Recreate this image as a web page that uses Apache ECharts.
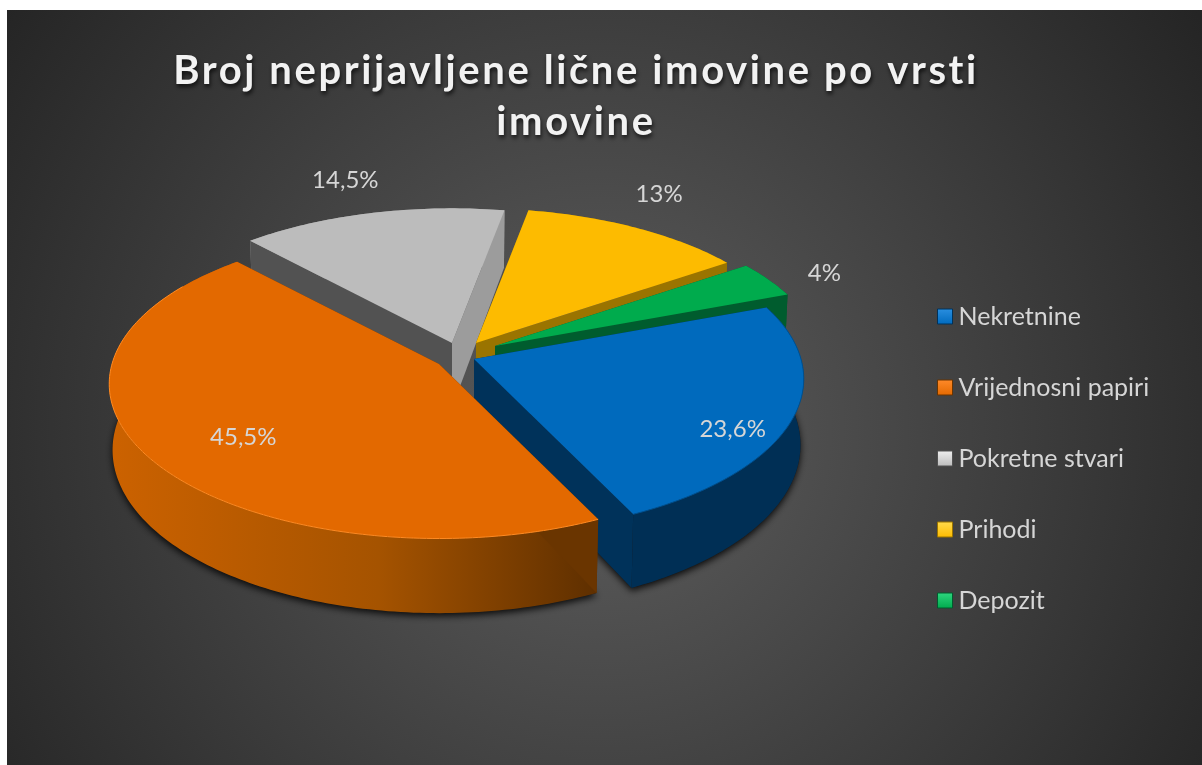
<!DOCTYPE html>
<html><head><meta charset="utf-8">
<style>html,body{margin:0;padding:0;background:#fff}#c{width:1202px;height:765px}</style>
<script src="https://cdn.jsdelivr.net/npm/echarts@6/dist/echarts.min.js"></script>
</head><body><div id="c"></div>
<script>
// ---- data ----
const categories = ['Nekretnine','Vrijednosni papiri','Pokretne stvari','Prihodi','Depozit'];
const values = [23.6,45.5,14.5,13,4];
const valueLabels = ['23,6%','45,5%','14,5%','13%','4%'];
const titleText = 'Broj neprijavljene lične imovine po vrsti\nimovine';

// ---- styles and camera ----
const topColors  = ['#006abd','#e36900','#bcbcbc','#fdbb00','#00ab4d'];
const iconLight  = ['#2a8fe0','#ff8a2a','#efefef','#ffdb4d','#2fd67f'];
const startWalls = ['#00325a','#6a3500','#525252','#9a7400','#005c2e'];
const endWalls   = ['#00325a','#6a3500','#9c9c9c','#9a7400','#005c2e'];
const apexes     = [[474,359],[439,364],[452,343],[476,343],[495,346]];
const labelNudge = [[-61,12],[94,-21],[-28,-33],[22,-34],[56,-6]];
const paintZ     = [5,6,2,3,4];
const startDeg = -21, Rx = 327, Ry = 152, persp = 0.129, depth = 65, bottomShrink = 0.99;

const total = values.reduce((a,b)=>a+b,0);
const ranges = []; let cursor = startDeg;
values.forEach(v=>{const e=cursor+v/total*360; ranges.push([cursor,e]); cursor=e;});

function warp(deg){ // the reference's camera skews the apparent angle slightly
  const sn=Math.sin(deg*Math.PI/180);
  return deg + (sn<0 ? 2.3*sn*sn : 1.5*sn*sn*sn);
}
function rim(i,deg,low){
  const a=warp(deg)*Math.PI/180, s=1/(1-persp*Math.sin(a));
  const X=Rx*Math.cos(a)*s, Y=Ry*Math.sin(a)*s;
  return low ? [apexes[i][0]+X*bottomShrink, apexes[i][1]+Y+depth*s]
             : [apexes[i][0]+X, apexes[i][1]+Y];
}
function arc(i,low){
  const [a,b]=ranges[i], n=Math.max(8,Math.ceil(b-a)), pts=[];
  for(let k=0;k<=n;k++) pts.push(rim(i,a+(b-a)*k/n,low));
  return pts;
}
function renderSlice(i){
  const apex=apexes[i], lowApex=[apex[0],apex[1]+depth];
  const top=arc(i,false), low=arc(i,true);
  const kids=[];
  const [a,b]=ranges[i];
  if(i<2){ // ground shadow under the two front slices
    kids.push({type:'polygon',shape:{points:[lowApex].concat(low)},
      style:{fill:'#1a1a1a',shadowColor:'rgba(0,0,0,0.85)',shadowBlur:7,shadowOffsetY:3}});
  }
  const wallFill = i===1
    ? new echarts.graphic.LinearGradient(0,0,1,0,[{offset:0,color:'#cc6200'},{offset:.55,color:'#a55300'},{offset:1,color:'#5e2f00'}])
    : (i===0 ? '#002f55' : endWalls[i]);
  kids.push({type:'polygon',shape:{points:top.concat(low.slice().reverse())},style:{fill:wallFill}});
  kids.push({type:'polygon',shape:{points:[apex,rim(i,a,false),rim(i,a,true),lowApex]},style:{fill:startWalls[i]}});
  kids.push({type:'polygon',shape:{points:[apex,rim(i,b,false),rim(i,b,true),lowApex]},style:{fill:endWalls[i]}});
  kids.push({type:'polygon',shape:{points:[apex].concat(top)},style:{fill:topColors[i]}});
  if(i===1) kids.push({type:'polyline',shape:{points:top.slice(0,150)},style:{stroke:'#ff8a22',lineWidth:1,fill:null}});
  if(i===0) kids.push({type:'polyline',shape:{points:top},style:{stroke:'#00508f',lineWidth:1,fill:null}});
  const mid=rim(i,(a+b)/2,false);
  kids.push({type:'text',style:{text:valueLabels[i],x:mid[0]+labelNudge[i][0],y:mid[1]+labelNudge[i][1],
    fill:'#d6d6d6',font:'24px Lato',textAlign:'center',verticalAlign:'middle',
    shadowColor:'rgba(0,0,0,0.65)',shadowBlur:3,shadowOffsetX:1,shadowOffsetY:2}});
  return {type:'group',children:kids};
}

// wider tracking on the title only
const nativeFill = CanvasRenderingContext2D.prototype.fillText;
CanvasRenderingContext2D.prototype.fillText = function(t,x,y,m){
  this.letterSpacing = /bold|700/.test(this.font) ? '2.6px' : '0px';
  return m===undefined ? nativeFill.call(this,t,x,y) : nativeFill.call(this,t,x,y,m);
};

const chart = echarts.init(document.getElementById('c'),null,{renderer:'canvas'});
chart.setOption({
  animation:false,
  backgroundColor:'#ffffff',
  graphic:[{type:'rect',z:-10,silent:true,shape:{x:7,y:10,width:1195,height:755},
    style:{fill:new echarts.graphic.RadialGradient(600,430,740,[{offset:0,color:'#5e5e5e'},{offset:1,color:'#242424'}],true)}}],
  title:{text:titleText,left:571,top:40.5,textAlign:'center',
    textStyle:{color:'#f2f2f2',fontFamily:'Lato',fontWeight:'bold',fontSize:40,lineHeight:51,
      textShadowColor:'rgba(0,0,0,0.7)',textShadowBlur:4,textShadowOffsetX:1,textShadowOffsetY:3}},
  legend:{orient:'vertical',left:932,top:299,itemWidth:15,itemHeight:15,itemGap:46,selectedMode:false,
    textStyle:{color:'#d6d6d6',fontFamily:'Lato',fontSize:25,padding:[0,0,0,1]},
    data:categories.map((n,i)=>({name:n,icon:'rect',itemStyle:{
      color:new echarts.graphic.LinearGradient(0,0,0,1,[{offset:0,color:iconLight[i]},{offset:1,color:topColors[i]}]),
      borderColor:startWalls[i],borderWidth:1}}))},
  series:categories.map((n,i)=>({
    type:'custom',name:n,z:paintZ[i],silent:true,coordinateSystem:'none',
    itemStyle:{color:topColors[i]},
    data:[values[i]],
    renderItem:()=>renderSlice(i)
  }))
});
</script></body></html>
